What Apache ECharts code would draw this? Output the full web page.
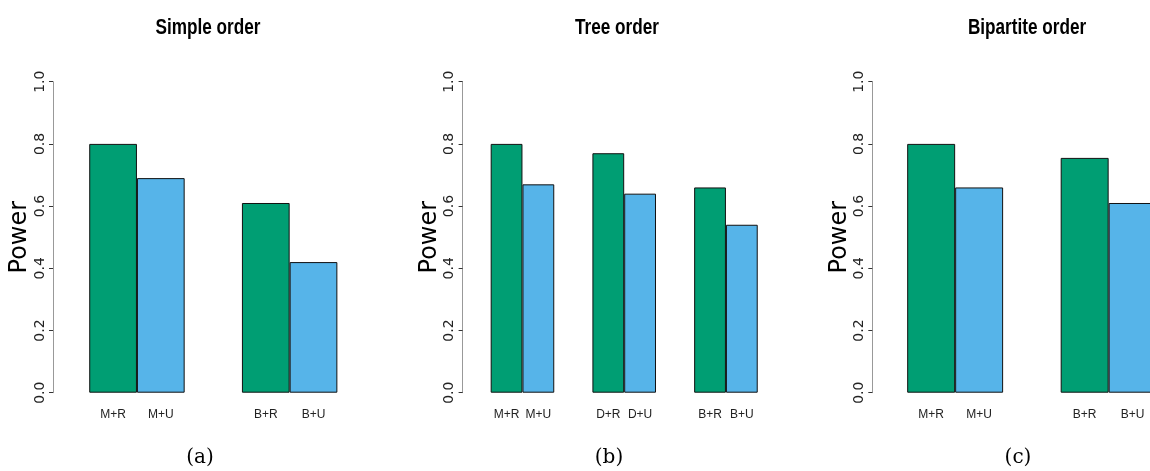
<!DOCTYPE html>
<html>
<head>
<meta charset="utf-8">
<style>
  html, body { margin: 0; padding: 0; background: #fff; }
  #chart { width: 1150px; height: 471px; }
</style>
<script src="https://cdn.jsdelivr.net/npm/echarts@6/dist/echarts.min.js"></script>
</head>
<body>
<div id="chart"></div>
<script>
// Power of each test combination under three order restrictions
const panelTitles = ['Simple order', 'Tree order', 'Bipartite order'];
const panelTags = ['(a)', '(b)', '(c)'];

const simpleGroups = ['M', 'B'];
const simpleR = [0.80, 0.61];
const simpleU = [0.69, 0.42];

const treeGroups = ['M', 'D', 'B'];
const treeR = [0.80, 0.77, 0.66];
const treeU = [0.67, 0.64, 0.54];

const bipartiteGroups = ['M', 'B'];
const bipartiteR = [0.80, 0.755];
const bipartiteU = [0.66, 0.61];

const yTicks = [0, 0.2, 0.4, 0.6, 0.8, 1.0];

const GREEN = '#009E73';
const BLUE = '#56B4E9';

// plot-region geometry for each panel
const layout = [
  { left: 60.6, width: 305.4, offset: 7.6, titleX: 208, tagX: 195 },
  { left: 471.6, width: 305.2, offset: 9.0, titleX: 617, tagX: 604 },
  { left: 878.4, width: 307.0, offset: 6.1, titleX: 1027, tagX: 1013 }
];
const panels = [
  { groups: simpleGroups, r: simpleR, u: simpleU },
  { groups: treeGroups, r: treeR, u: treeU },
  { groups: bipartiteGroups, r: bipartiteR, u: bipartiteU }
];

const chart = echarts.init(document.getElementById('chart'));

const grid = [], xAxis = [], yAxis = [], series = [], title = [], graphic = [];
panels.forEach((p, i) => {
  const L = layout[i];
  grid.push({
    left: L.left, width: L.width, top: 81.7, height: 311,
    containLabel: false, outerBoundsMode: 'none'
  });
  xAxis.push({
    type: 'category', gridIndex: i, data: p.groups, boundaryGap: true,
    axisLine: { show: false }, axisTick: { show: false }, axisLabel: { show: false },
    splitLine: { show: false }
  });
  yAxis.push({
    type: 'value', gridIndex: i, min: yTicks[0], max: yTicks[yTicks.length - 1], interval: 0.2,
    offset: L.offset,
    name: 'Power', nameLocation: 'middle', nameGap: 17,
    nameTextStyle: { fontFamily: 'DejaVu Sans', fontSize: 24, color: '#000' },
    axisLine: { show: true, lineStyle: { color: '#999', width: 1 } },
    axisTick: { show: true, length: 4, lineStyle: { color: '#333', width: 1 } },
    axisLabel: {
      rotate: 90, margin: 6, fontFamily: 'DejaVu Sans', fontSize: 14, color: '#222',
      formatter: v => v.toFixed(1)
    },
    splitLine: { show: false }
  });
  const labelFor = suffix => ({
    show: true, position: 'bottom', distance: 16,
    fontFamily: "'Liberation Sans', Arial, sans-serif", fontSize: 12, color: '#222',
    formatter: d => d.name + suffix
  });
  series.push({
    type: 'bar', xAxisIndex: i, yAxisIndex: i, data: p.r,
    barGap: '0%', barCategoryGap: '37.5%',
    itemStyle: { color: GREEN, borderColor: '#111', borderWidth: 1 },
    label: labelFor('+R'), silent: true
  });
  series.push({
    type: 'bar', xAxisIndex: i, yAxisIndex: i, data: p.u,
    barGap: '0%', barCategoryGap: '37.5%',
    itemStyle: { color: BLUE, borderColor: '#111', borderWidth: 1 },
    label: labelFor('+U'), silent: true
  });
  // bold, condensed panel heading
  graphic.push({
    type: 'text', x: L.titleX, y: 28, scaleX: 0.78, silent: true,
    style: {
      text: panelTitles[i], fill: '#000', align: 'center', verticalAlign: 'middle',
      font: "bold 22px 'Liberation Sans', Arial, sans-serif"
    }
  });
  title.push({
    text: panelTags[i], left: L.tagX, top: 443, textAlign: 'center',
    textStyle: { fontFamily: "'DejaVu Serif', serif", fontWeight: 'normal', fontSize: 20, color: '#000' }
  });
});

chart.setOption({
  animation: false,
  backgroundColor: '#fff',
  title, grid, xAxis, yAxis, series, graphic
});
</script>
</body>
</html>
